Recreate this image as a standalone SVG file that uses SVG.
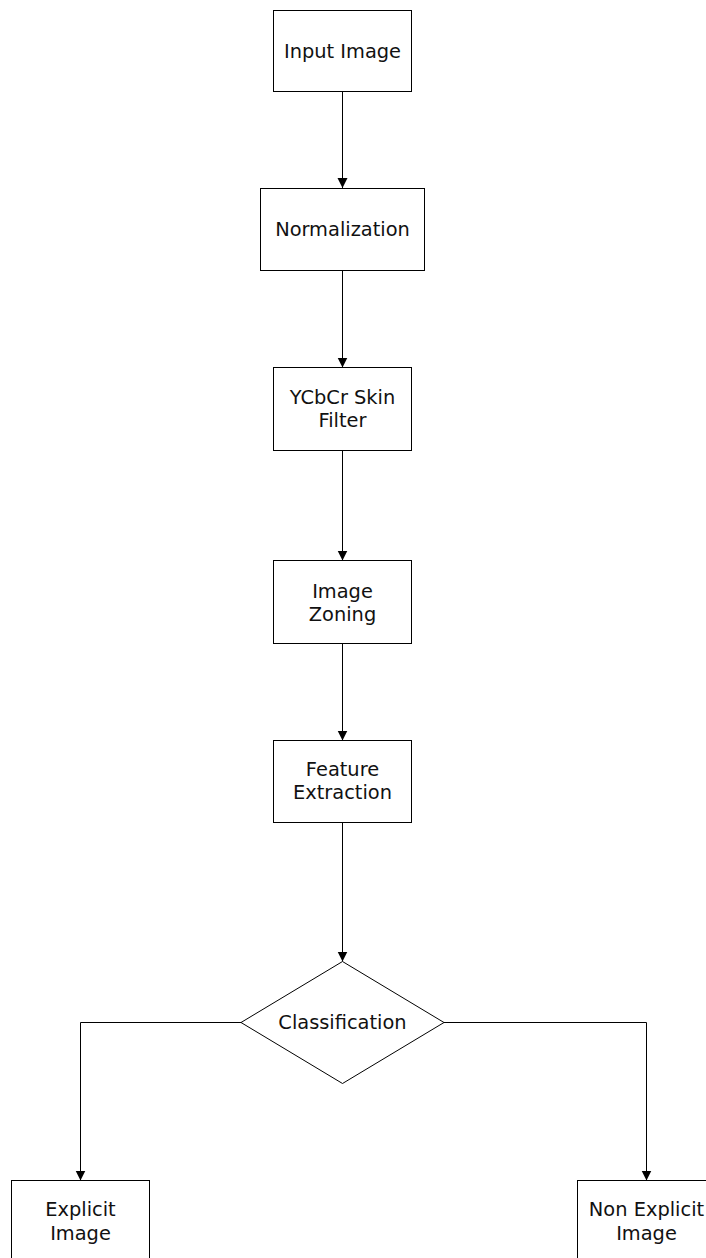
<svg xmlns="http://www.w3.org/2000/svg" width="706" height="1258" viewBox="0 0 706 1258">
<style>
.box{fill:#fff;stroke:#000;stroke-width:1}
.lbl{font-family:"DejaVu Sans",Verdana,sans-serif;font-size:19.4px;fill:#111;text-anchor:middle}
.con{fill:none;stroke:#000;stroke-width:1}
</style>
<defs>
<marker id="arr" markerUnits="userSpaceOnUse" markerWidth="12" markerHeight="12" viewBox="0 0 12 12" refX="10" refY="6" orient="auto">
<path d="M0,1 L10,6 L0,11 Z" fill="#000"/>
</marker>
</defs>
<rect width="706" height="1258" fill="#fff"/>
<g id="connectors">
<path class="con" d="M342.5,92 V188" marker-end="url(#arr)"/>
<path class="con" d="M342.5,271 V367.5" marker-end="url(#arr)"/>
<path class="con" d="M342.5,450.5 V560.5" marker-end="url(#arr)"/>
<path class="con" d="M342.5,643.5 V740.5" marker-end="url(#arr)"/>
<path class="con" d="M342.5,822.5 V961.5" marker-end="url(#arr)"/>
<path class="con" d="M241,1022.5 H80.5 V1180.5" marker-end="url(#arr)"/>
<path class="con" d="M444,1022.5 H646.5 V1180.5" marker-end="url(#arr)"/>
</g>
<g id="input-image">
<rect class="box" x="273.5" y="10.5" width="138" height="81"/>
<text class="lbl" x="342.5" y="57.5">Input Image</text>
</g>
<g id="normalization">
<rect class="box" x="260.5" y="188.5" width="164" height="82"/>
<text class="lbl" x="342.5" y="236">Normalization</text>
</g>
<g id="skin-filter">
<rect class="box" x="273.5" y="367.5" width="138" height="83"/>
<text class="lbl" x="342.5" y="404">YCbCr Skin</text>
<text class="lbl" x="342.5" y="427">Filter</text>
</g>
<g id="image-zoning">
<rect class="box" x="273.5" y="560.5" width="138" height="83"/>
<text class="lbl" x="342.5" y="597.5">Image</text>
<text class="lbl" x="342.5" y="620.5">Zoning</text>
</g>
<g id="feature-extraction">
<rect class="box" x="273.5" y="740.5" width="138" height="82"/>
<text class="lbl" x="342.5" y="776">Feature</text>
<text class="lbl" x="342.5" y="799">Extraction</text>
</g>
<g id="classification">
<polygon class="box" points="342.5,961.5 444,1022.5 342.5,1083.5 241,1022.5"/>
<text class="lbl" x="342.5" y="1028.5">Classification</text>
</g>
<g id="explicit">
<rect class="box" x="11.5" y="1180.5" width="138" height="83"/>
<text class="lbl" x="80.5" y="1216">Explicit</text>
<text class="lbl" x="80.5" y="1239.5">Image</text>
</g>
<g id="non-explicit">
<rect class="box" x="577.5" y="1180.5" width="138" height="83"/>
<text class="lbl" x="646.5" y="1216">Non Explicit</text>
<text class="lbl" x="646.5" y="1239.5">Image</text>
</g>
</svg>
